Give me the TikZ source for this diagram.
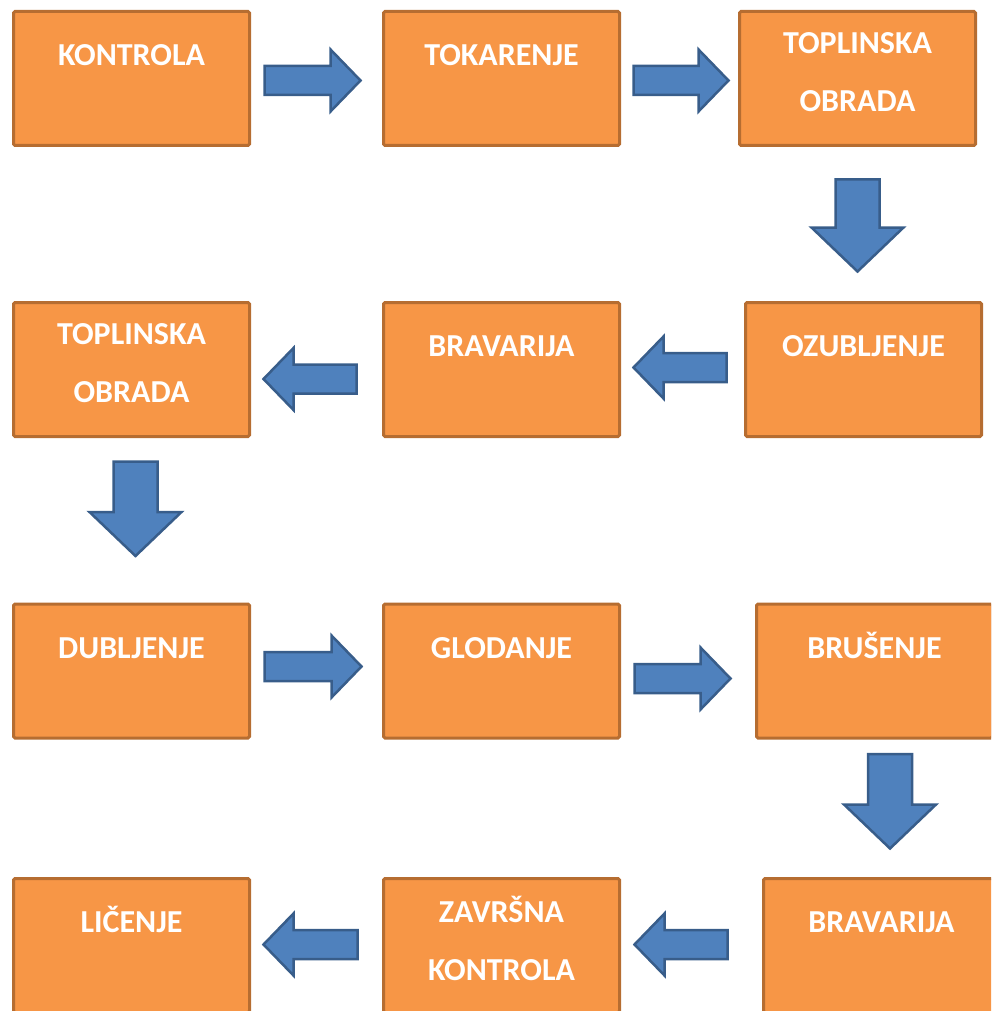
\documentclass[tikz,border=0pt]{standalone}
\usepackage{fontspec}
\setmainfont{Carlito}
\usetikzlibrary{calc}
\definecolor{boxfill}{HTML}{F79646}
\definecolor{boxline}{HTML}{B66D31}
\definecolor{arrowfill}{HTML}{4F81BD}
\definecolor{arrowline}{HTML}{385D8A}
\tikzset{proc/.style={draw=boxline, fill=boxfill, line width=3pt, minimum width=236pt, minimum height=134pt, inner sep=0pt, rounded corners=1.5pt},
         lbl/.style={text=white, anchor=base, align=center, inner sep=0pt, font=\fontsize{32pt}{58pt}\selectfont\bfseries},
         blk/.style n args={3}{draw=arrowline, fill=arrowfill, line width=2.5pt, line join=miter,
           to path={($(\tikztostart)!#1!90:(\tikztotarget)$)
             -- ($($(\tikztotarget)!#3!(\tikztostart)$)!#1!90:(\tikztotarget)$)
             -- ($($(\tikztotarget)!#3!(\tikztostart)$)!#2!90:(\tikztotarget)$)
             -- (\tikztotarget)
             -- ($($(\tikztotarget)!#3!(\tikztostart)$)!#2!-90:(\tikztotarget)$)
             -- ($($(\tikztotarget)!#3!(\tikztostart)$)!#1!-90:(\tikztotarget)$)
             -- ($(\tikztostart)!#1!-90:(\tikztotarget)$) -- cycle}},
         harrow/.style={blk={14.5pt}{31pt}{30pt}},
         varrow/.style={blk={22pt}{46pt}{44pt}}
        }

\begin{document}
\begin{tikzpicture}[x=1pt, y=-1pt]
  \useasboundingbox (0,0) rectangle (991,1011);
  \clip (0,0) rectangle (991,1011);

  \node[proc] (kon) at (131.5,78.5) {};
  \node[proc] (tok) at (501.5,78.5) {};
  \node[proc] (top1) at (857.5,78.5) {};
  \node[proc] (top2) at (131.5,369.5) {};
  \node[proc] (bra1) at (501.5,369.5) {};
  \node[proc] (ozu) at (863.5,369.5) {};
  \node[proc] (dub) at (131.5,671) {};
  \node[proc] (glo) at (501.5,671) {};
  \node[proc] (bru) at (874.5,671) {};
  \node[proc] (lic) at (131.5,945.5) {};
  \node[proc] (zav) at (501.5,945.5) {};
  \node[proc] (bra2) at (881.5,945.5) {};

  \node[lbl] (konT) at ([yshift=-55.5pt]kon.north) {KONTROLA};
  \node[lbl] (tokT) at ([yshift=-55.5pt]tok.north) {TOKARENJE};
  \node[lbl] (top1T) at ([yshift=-101.5pt]top1.north) {TOPLINSKA\\OBRADA};
  \node[lbl] (top2T) at ([yshift=-101.5pt]top2.north) {TOPLINSKA\\OBRADA};
  \node[lbl] (bra1T) at ([yshift=-55.5pt]bra1.north) {BRAVARIJA};
  \node[lbl] (ozuT) at ([yshift=-55.5pt]ozu.north) {OZUBLJENJE};
  \node[lbl] (dubT) at ([yshift=-55.5pt]dub.north) {DUBLJENJE};
  \node[lbl] (gloT) at ([yshift=-55.5pt]glo.north) {GLODANJE};
  \node[lbl] (bruT) at ([yshift=-55.5pt]bru.north) {BRUŠENJE};
  \node[lbl] (licT) at ([yshift=-55.5pt]lic.north) {LIČENJE};
  \node[lbl] (zavT) at ([yshift=-103.5pt]zav.north) {ZAVRŠNA\\KONTROLA};
  \node[lbl] (bra2T) at ([yshift=-55.5pt]bra2.north) {BRAVARIJA};

  \draw[harrow] ([xshift=13.5pt,yshift=-2pt]kon.east) to ([xshift=-21.5pt,yshift=-2pt]tok.west);
  \draw[harrow] ([xshift=12.5pt,yshift=-2pt]tok.east) to ([xshift=-9.5pt,yshift=-2pt]top1.west);
  \draw[varrow] ([yshift=-32.5pt]top1.south) to ($(top1.south |- ozu.north)+(0pt,29.5pt)$);
  \draw[harrow] ([xshift=-17.5pt,yshift=2pt]ozu.west) to ([xshift=12.5pt,yshift=2pt]bra1.east);
  \draw[harrow] ([xshift=-25.5pt,yshift=-9.5pt]bra1.west) to ([xshift=12.5pt,yshift=-9.5pt]top2.east);
  \draw[varrow] ([xshift=4pt,yshift=-23.5pt]top2.south) to ($(top2.south |- dub.north)+(4pt,46.5pt)$);
  \draw[harrow] ([xshift=13.5pt,yshift=4.5pt]dub.east) to ([xshift=-20.5pt,yshift=4.5pt]glo.west);
  \draw[harrow] ([xshift=13.5pt,yshift=-7.5pt]glo.east) to ([xshift=-24.5pt,yshift=-7.5pt]bru.west);
  \draw[varrow] ([xshift=15.5pt,yshift=-14.5pt]bru.south) to ($(bru.south |- bra2.north)+(15.5pt,28.5pt)$);
  \draw[harrow] ([xshift=-34.5pt,yshift=1pt]bra2.west) to ([xshift=13.5pt,yshift=1pt]zav.east);
  \draw[harrow] ([xshift=-24.5pt,yshift=1pt]zav.west) to ([xshift=12.5pt,yshift=1pt]lic.east);
\end{tikzpicture}
\end{document}
